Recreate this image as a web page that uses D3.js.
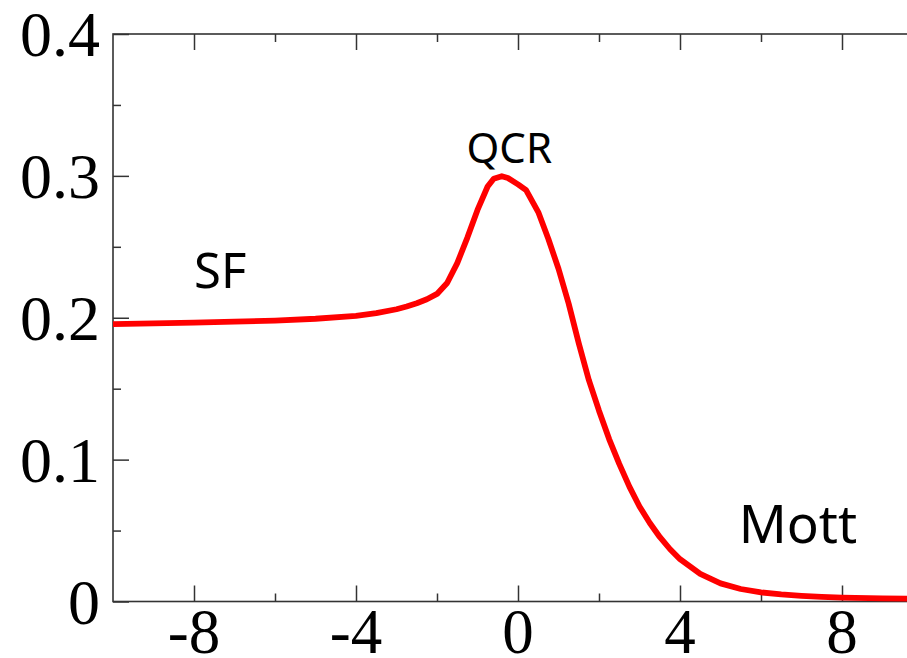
<!DOCTYPE html>
<html>
<head>
<meta charset="utf-8">
<script src="https://cdn.jsdelivr.net/npm/d3@7"></script>
<style>
  body { margin: 0; background: #fff; }
  svg { display: block; }
</style>
</head>
<body>
<script>
// curve
const xs = [-10, -9, -8, -7, -6, -5, -4, -3.5, -3, -2.75, -2.5, -2.25, -2, -1.75, -1.5, -1.25, -1, -0.75, -0.6, -0.4, -0.25, 0, 0.2, 0.5, 0.75, 1, 1.25, 1.5, 1.75, 2, 2.25, 2.5, 2.75, 3, 3.25, 3.5, 3.75, 4, 4.5, 5, 5.5, 6, 6.5, 7, 7.5, 8, 9, 10]
const ys = [0.1955, 0.196, 0.1965, 0.1972, 0.198, 0.1993, 0.2013, 0.2032, 0.206, 0.2079, 0.2102, 0.2130, 0.2168, 0.2245, 0.2385, 0.2565, 0.276, 0.2925, 0.298, 0.2998, 0.2985, 0.294, 0.290, 0.2745, 0.2555, 0.2345, 0.21, 0.182, 0.156, 0.1345, 0.1145, 0.097, 0.081, 0.067, 0.0555, 0.0455, 0.037, 0.0298, 0.0195, 0.0128, 0.0088, 0.0064, 0.0050, 0.0040, 0.0033, 0.0028, 0.0022, 0.002]

const xMajor = [-8, -4, 0, 4, 8]
const xMinor = [-6, -2, 2, 6]
const yMajor = [0, 0.1, 0.2, 0.3, 0.4]
const yMinor = [0.05, 0.15, 0.25, 0.35]
const yLabels = ['0', '0.1', '0.2', '0.3', '0.4']

const labels = [
  { text: 'QCR', x: -1.27, size: 42 },
  { text: 'SF', x: -8, size: 49 },
  { text: 'Mott', x: 5.45, size: 53 }
]
// label baselines, in y units
const labelY = [0.309, 0.221, 0.041]

const W = 907
const H = 658
const margin = { top: 34, left: 113, bottom: 56.5 }

const svg = d3.select('body').append('svg')
  .attr('width', W)
  .attr('height', H)

const x = d3.scaleLinear().domain([-10, 10]).range([margin.left, margin.left + 810])
const y = d3.scaleLinear().domain([0, 0.4]).range([H - margin.bottom, margin.top])

const axisColor = '#333'
const major = 16
const minor = 8

function styleAxis (g) {
  g.select('.domain').remove()
  g.selectAll('line').attr('stroke', axisColor).attr('stroke-width', 1.5)
}

// ticks, drawn inward
svg.append('g').attr('transform', `translate(0,${y(0)})`)
  .call(d3.axisBottom(x).tickValues(xMajor).tickSize(-major).tickFormat(''))
  .call(styleAxis)
svg.append('g').attr('transform', `translate(0,${y(0)})`)
  .call(d3.axisBottom(x).tickValues(xMinor).tickSize(-minor).tickFormat(''))
  .call(styleAxis)
svg.append('g').attr('transform', `translate(0,${y(0.4)})`)
  .call(d3.axisTop(x).tickValues(xMajor).tickSize(-major).tickFormat(''))
  .call(styleAxis)
svg.append('g').attr('transform', `translate(0,${y(0.4)})`)
  .call(d3.axisTop(x).tickValues(xMinor).tickSize(-minor).tickFormat(''))
  .call(styleAxis)
svg.append('g').attr('transform', `translate(${x(-10)},0)`)
  .call(d3.axisLeft(y).tickValues(yMajor).tickSize(-major).tickFormat(''))
  .call(styleAxis)
svg.append('g').attr('transform', `translate(${x(-10)},0)`)
  .call(d3.axisLeft(y).tickValues(yMinor).tickSize(-minor).tickFormat(''))
  .call(styleAxis)

// frame
svg.append('rect')
  .attr('x', x(-10))
  .attr('y', y(0.4))
  .attr('width', x(10) - x(-10))
  .attr('height', y(0) - y(0.4))
  .attr('fill', 'none')
  .attr('stroke', axisColor)
  .attr('stroke-width', 1.6)

// tick labels
const tickFont = '"Liberation Serif", "Times New Roman", serif'
svg.append('g').selectAll('text')
  .data(xMajor)
  .join('text')
  .attr('x', d => x(d))
  .attr('y', y(0) + 51)
  .attr('text-anchor', 'middle')
  .attr('font-family', tickFont)
  .attr('font-size', 63)
  .text(d => d)

svg.append('g').selectAll('text')
  .data(yMajor)
  .join('text')
  .attr('x', x(-10) - 13)
  .attr('y', d => y(d) + 22)
  .attr('text-anchor', 'end')
  .attr('font-family', tickFont)
  .attr('font-size', 64)
  .text((d, i) => yLabels[i])

// curve
const pts = xs.map((d, i) => [d, ys[i]])
svg.append('path')
  .datum(pts)
  .attr('fill', 'none')
  .attr('stroke', '#ff0000')
  .attr('stroke-width', 5.8)
  .attr('stroke-linejoin', 'round')
  .attr('d', d3.line().x(d => x(d[0])).y(d => y(d[1])))

// region labels
svg.append('g').selectAll('text')
  .data(labels)
  .join('text')
  .attr('x', d => x(d.x))
  .attr('y', (d, i) => y(labelY[i]))
  .attr('font-family', '"Noto Sans", "Open Sans", sans-serif')
  .attr('font-size', d => d.size)
  .text(d => d.text)
</script>
</body>
</html>
